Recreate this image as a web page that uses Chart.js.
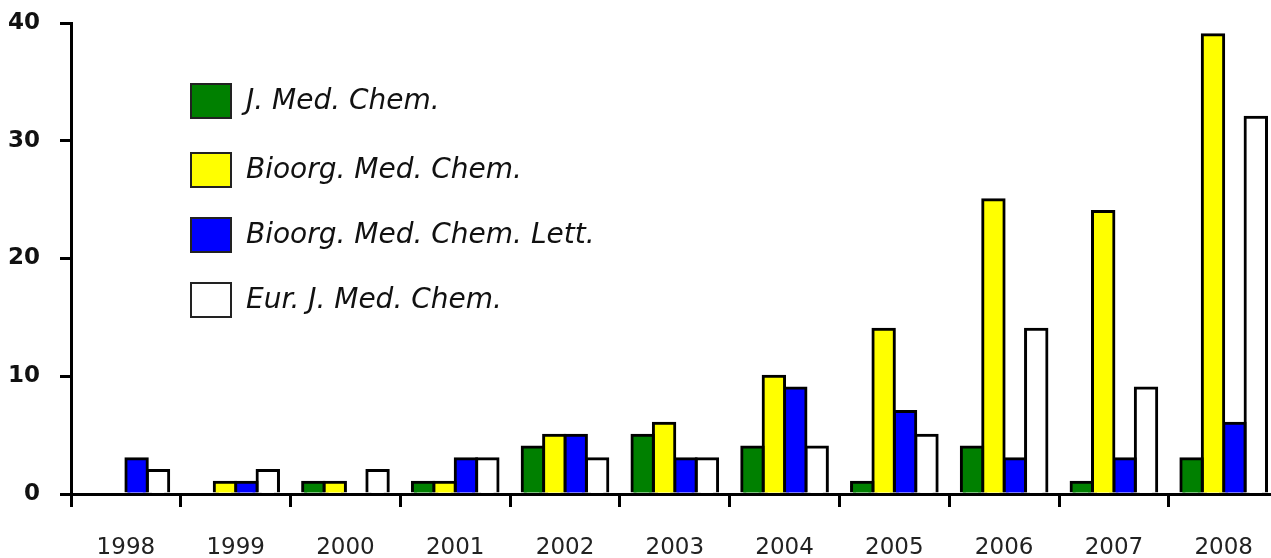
<!DOCTYPE html>
<html>
<head>
<meta charset="utf-8">
<script src="https://cdn.jsdelivr.net/npm/chart.js@4"></script>
<style>
  html, body { margin: 0; padding: 0; background: #fff; overflow: hidden; }
  #wrap { width: 1280px; height: 558px; position: relative; }
</style>
</head>
<body>
<div id="wrap"><canvas id="myChart"></canvas></div>
<script>
// categories and series
const years = ['1998','1999','2000','2001','2002','2003','2004','2005','2006','2007','2008'];
const jMedChem      = [0, 0, 1, 1, 4, 5, 4, 1, 4, 1, 3];
const bioorgMedChem = [0, 1, 1, 1, 5, 6, 10, 14, 25, 24, 39];
const bmcLett       = [3, 1, 0, 3, 5, 3, 9, 7, 3, 3, 6];
const eurJMedChem   = [2, 2, 2, 3, 3, 3, 4, 5, 14, 9, 32];
const yTicks = [0, 10, 20, 30, 40];

const seriesNames = ['J. Med. Chem.', 'Bioorg. Med. Chem.', 'Bioorg. Med. Chem. Lett.', 'Eur. J. Med. Chem.'];
const seriesColors = ['#008000', '#ffff00', '#0000ff', '#ffffff'];
const seriesData = [jMedChem, bioorgMedChem, bmcLett, eurJMedChem];

// legend drawn inside the plot, top left
const legendRowsY = [83, 152, 217, 282];
const innerLegend = {
  id: 'innerLegend',
  afterDraw(chart) {
    const ctx = chart.ctx;
    ctx.save();
    chart.data.datasets.forEach(function (ds, i) {
      const x = 190, y = legendRowsY[i];
      ctx.fillStyle = ds.backgroundColor;
      ctx.fillRect(x, y, 42, 36);
      ctx.lineWidth = 2;
      ctx.strokeStyle = '#222';
      ctx.strokeRect(x + 1, y + 1, 40, 34);
      ctx.fillStyle = '#111';
      ctx.font = 'italic 28px "DejaVu Sans"';
      ctx.textBaseline = 'middle';
      ctx.fillText(ds.label, 246, y + 19);
    });
    ctx.restore();
  }
};

const datasets = seriesNames.map(function (name, i) {
  return {
    label: name,
    data: seriesData[i],
    backgroundColor: seriesColors[i],
    borderColor: '#000',
    borderWidth: 3,
    borderSkipped: 'bottom',
    inflateAmount: 1.5
  };
});

const config = {
  type: 'bar',
  data: { labels: years, datasets: datasets },
  options: {
    responsive: true,
    maintainAspectRatio: false,
    animation: false,
    layout: { padding: { top: 23, right: 1, left: 0, bottom: 0 } },
    datasets: { bar: { categoryPercentage: 0.78, barPercentage: 1.0 } },
    plugins: { legend: { display: false }, tooltip: { enabled: false } },
    scales: {
      x: {
        grid: { offset: true, drawOnChartArea: false, drawTicks: true, tickLength: 13, color: '#000', lineWidth: 3 },
        border: { display: true, color: '#000', width: 3 },
        ticks: { color: '#222', font: { family: '"DejaVu Sans"', size: 23 }, padding: 27 },
        afterFit: function (scale) { scale.height = 64; }
      },
      y: {
        min: 0,
        max: 40,
        afterBuildTicks: function (scale) { scale.ticks = yTicks.map(function (v) { return { value: v }; }); },
        grid: { drawOnChartArea: false, drawTicks: true, tickLength: 11, color: '#000', lineWidth: 3 },
        border: { display: true, color: '#000', width: 3 },
        ticks: { color: '#111', font: { family: '"DejaVu Sans"', size: 23, weight: 'bold' }, padding: 20 },
        afterFit: function (scale) {
          scale.width = 71;
          scale.paddingTop = 0;
          scale.paddingBottom = 0;
        }
      }
    }
  },
  plugins: [innerLegend]
};

const myChart = new Chart(document.getElementById('myChart'), config);
</script>
</body>
</html>
